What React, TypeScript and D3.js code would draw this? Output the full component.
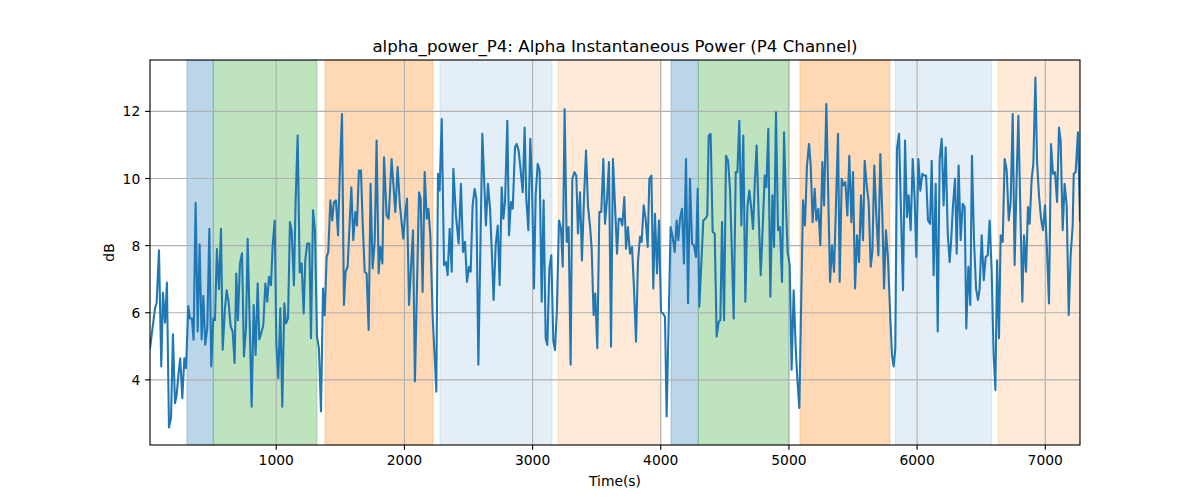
import React from "react";
import * as d3 from "d3";

const times: number[] = [
  15, 54, 67, 85, 103, 116, 132, 147, 163, 179, 194, 210, 223, 238, 251, 267, 283, 296, 314, 327,
  342, 355, 371, 387, 402, 418, 431, 446, 462, 478, 493, 509, 522, 537, 553, 569, 582, 600, 613, 628,
  644, 660, 675, 688, 701, 717, 733, 748, 764, 777, 792, 808, 824, 839, 855, 868,
  886, 899, 915, 930, 943, 959, 972, 988, 1001, 1016, 1032, 1047, 1063, 1076, 1092, 1107, 1120, 1138, 1151, 1167,
  1183, 1198, 1214, 1227, 1242, 1258, 1271, 1287, 1302, 1318, 1333, 1349, 1365, 1378, 1393, 1406, 1422, 1437, 1450, 1466,
  1482, 1497, 1513, 1528, 1541, 1557, 1573, 1586, 1601, 1617, 1630, 1645, 1661, 1674, 1690, 1705, 1721, 1736, 1752,
  1768, 1783, 1799, 1812, 1828, 1841, 1861, 1877, 1900, 1929, 1947, 1965, 1978, 1991, 2007, 2020, 2036, 2067, 2082, 2114,
  2127, 2142, 2158, 2174, 2187, 2202, 2220, 2249, 2262, 2275, 2291, 2309, 2324, 2337, 2353, 2369, 2382, 2402, 2423, 2441,
  2457, 2473, 2488, 2504, 2517, 2532, 2548, 2561, 2577, 2608, 2636, 2652, 2668,
  2683, 2696, 2712, 2728, 2743, 2759, 2772, 2785, 2803, 2816, 2831, 2845, 2863, 2876, 2891, 2907, 2923, 2938, 2951, 2967,
  2982, 2995, 3011, 3024, 3040, 3055, 3071, 3086, 3102, 3115, 3131, 3146, 3162, 3175, 3190, 3206, 3222, 3235, 3250, 3266,
  3281, 3297, 3310, 3326, 3341, 3354, 3370, 3385, 3401, 3417, 3432, 3450, 3461, 3476, 3489, 3505, 3521, 3536, 3552, 3565,
  3581, 3596, 3612, 3627, 3643, 3659, 3672, 3687, 3700, 3716, 3729, 3744, 3760, 3776, 3791, 3807, 3822, 3838, 3851, 3867,
  3882, 3898, 3911, 3927, 3942, 3955, 3971, 3986, 4002, 4017, 4033, 4046, 4077, 4093, 4109, 4124, 4137, 4150, 4166, 4181,
  4197, 4213, 4228, 4244, 4259, 4275, 4288, 4301, 4332, 4348, 4363, 4374, 4389, 4405, 4421, 4436, 4452,
  4465, 4478, 4494, 4509, 4525, 4540, 4553, 4569, 4585, 4598, 4613, 4629, 4644, 4660, 4676, 4691, 4704, 4720, 4735, 4748,
  4764, 4780, 4795, 4811, 4824, 4839, 4855, 4871, 4884, 4899, 4915, 4930, 4946, 4962, 4977, 4990, 5006, 5021, 5037, 5053,
  5066, 5081, 5110, 5125, 5141, 5157, 5170, 5185, 5201, 5214, 5230, 5245, 5261, 5274, 5292, 5321, 5336, 5352,
  5367, 5383, 5396, 5412, 5425, 5440, 5456, 5471, 5487, 5500, 5516, 5531, 5547, 5562, 5578, 5591, 5607, 5622, 5638, 5651,
  5666, 5682, 5698, 5713, 5729, 5742, 5757, 5773, 5789, 5804, 5817, 5830, 5843, 5859, 5875, 5890, 5906, 5921, 5934, 5950,
  5966, 5981, 5994, 6010, 6025, 6041, 6054, 6070, 6085, 6101, 6114, 6129, 6145, 6161, 6176, 6192, 6207, 6223, 6239, 6254,
  6265, 6280, 6296, 6309, 6324, 6340, 6356, 6371, 6384, 6400, 6415, 6428, 6444, 6460, 6475, 6488, 6504, 6520, 6535, 6551,
  6566, 6582, 6597, 6611, 6624, 6639, 6652, 6668, 6683, 6699, 6715, 6730, 6746, 6761, 6777, 6790, 6806, 6821, 6834, 6850,
  6865, 6878, 6894, 6907, 6923, 6936, 6951, 6967, 6982, 6998, 7014, 7029, 7045, 7060, 7076, 7092, 7107, 7120, 7136, 7151,
  7167, 7183, 7198, 7214, 7222, 7237, 7255, 7271,
];

const alphaPower: number[] = [
  4.94, 6.13, 6.3, 7.86, 4.4, 6.6, 5.7, 6.9, 2.58, 2.86, 5.36, 3.3, 3.55, 4.2, 4.64, 3.45, 4.64, 4.35, 6.2, 5.83,
  5.83, 5.2, 9.28, 5.44, 8.04, 5.2, 6.5, 5.05, 5.55, 8.5, 4.4, 5.83, 5.78, 7.9, 6.7, 8.5, 4.9, 6.13, 6.67, 6.33,
  5.6, 5.44, 4.5, 7.17, 5.78, 7.47, 7.77, 4.7, 5.55, 8.2, 5.83, 3.2, 6.23, 4.74, 6.88, 5.2,
  5.44, 5.63, 6.87, 6.33, 7.07, 6.82, 8.0, 8.75, 5.04, 4.05, 6.13, 3.2, 6.28, 5.68, 5.83, 8.7, 8.46, 6.82, 9.3, 11.28,
  7.2, 7.47, 5.98, 7.6, 8.06, 8.06, 5.24, 9.05, 8.46, 5.29, 4.94, 3.06, 6.72, 5.93, 7.66, 7.81, 9.35, 8.75, 9.3, 9.35,
  8.3, 10.29, 11.92, 6.23, 7.22, 7.37, 8.7, 9.74, 8.16, 9.0, 8.6, 10.24, 10.24, 8.7, 7.22, 7.17, 5.49, 9.84, 7.32,
  8.11, 11.13, 7.17, 7.96, 7.47, 10.63, 8.9, 8.8, 10.58, 9.0, 10.34, 9.2, 8.7, 8.21, 9.0, 9.4, 6.23, 8.46, 3.95, 9.59,
  9.4, 6.62, 10.19, 8.8, 9.1, 8.31, 5.93, 3.65, 10.14, 9.64, 11.77, 7.42, 7.51, 7.12, 8.5, 7.22, 10.29, 8.9, 8.06, 9.84,
  7.81, 8.11, 6.92, 7.37, 7.22, 9.2, 9.69, 9.4, 4.45, 11.33, 8.6, 9.84, 9.1,
  7.71, 6.38, 8.01, 8.6, 6.82, 9.74, 8.8, 9.3, 11.72, 8.31, 9.3, 9.1, 10.93, 11.03, 10.83, 10.24, 9.59, 11.52, 9.4, 8.46,
  11.18, 9.89, 6.72, 9.5, 10.44, 10.24, 6.33, 9.35, 5.24, 5.04, 7.32, 7.71, 5.14, 4.89, 6.13, 8.75, 8.5, 7.37, 12.07, 8.11,
  8.55, 4.45, 9.99, 10.19, 10.09, 8.36, 9.59, 7.56, 9.4, 10.83, 9.2, 8.5, 7.91, 5.93, 6.57, 4.94, 9.0, 9.0, 10.58, 8.65,
  9.4, 10.49, 4.99, 10.58, 9.2, 7.76, 8.8, 8.8, 8.6, 9.45, 7.91, 8.55, 7.76, 7.96, 6.72, 5.14, 7.51, 8.26, 8.11, 9.2,
  8.8, 7.96, 9.99, 10.09, 6.72, 8.95, 7.17, 8.75, 6.03, 5.98, 5.88, 2.91, 8.55, 8.26, 7.81, 8.75, 8.16, 8.8, 9.1, 7.47,
  10.58, 6.28, 9.99, 8.06, 8.01, 7.66, 9.69, 6.18, 8.75, 8.8, 8.9, 11.28, 11.33, 8.41, 8.36, 5.29, 5.73,
  5.78, 8.7, 5.78, 10.68, 10.53, 9.69, 8.06, 5.83, 10.19, 10.19, 11.72, 8.6, 11.28, 6.33, 9.15, 9.64, 9.2, 8.5, 9.99, 10.98,
  8.9, 7.12, 8.5, 10.09, 9.74, 11.48, 6.48, 9.5, 7.96, 11.97, 8.46, 8.55, 6.92, 11.38, 9.2, 7.81, 7.42, 4.3, 6.67, 4.94,
  4.0, 3.16, 9.35, 8.6, 10.39, 11.03, 10.39, 8.7, 9.69, 8.75, 9.1, 8.01, 10.49, 9.2, 12.22, 6.92, 8.01, 7.22,
  9.2, 11.33, 6.92, 9.99, 9.79, 9.89, 8.9, 10.68, 8.7, 10.19, 6.72, 8.31, 7.51, 9.5, 8.16, 10.53, 9.79, 9.3, 7.37, 7.81,
  10.39, 8.9, 7.71, 10.73, 8.9, 6.72, 8.46, 7.61, 6.03, 4.74, 4.4, 4.94, 10.88, 11.33, 8.9, 6.67, 11.13, 8.85, 9.5, 8.46,
  10.58, 9.4, 7.66, 10.58, 9.64, 10.14, 10.09, 10.09, 8.75, 8.65, 10.53, 7.12, 9.84, 5.44, 10.58, 11.18, 9.2, 10.93, 8.36, 7.51,
  8.11, 9.2, 9.99, 7.76, 10.39, 8.16, 9.25, 9.15, 5.53, 7.37, 6.23, 10.68, 8.16, 6.72, 6.38, 6.72, 8.31, 6.97, 7.66, 7.71,
  8.75, 7.22, 4.74, 3.7, 7.56, 5.24, 8.31, 8.11, 10.58, 10.24, 8.75, 9.3, 11.92, 7.42, 10.09, 11.87, 9.0, 6.33, 8.31, 7.22,
  9.15, 8.65, 9.99, 10.44, 13.01, 10.49, 9.5, 8.8, 8.46, 9.2, 7.81, 6.28, 11.03, 10.14, 10.19, 9.3, 11.52, 11.13, 8.46, 9.84,
  9.2, 5.93, 7.71, 8.6, 10.14, 10.19, 11.38, 8.75,
];

const spanStarts: number[] = [303, 509, 1380, 2277, 3198, 4080, 4293, 5086, 5830, 6631];
const spanEnds: number[] = [509, 1318, 2223, 3151, 4002, 4293, 5000, 5788, 6581, 7271];
const spanColors: string[] = ["#1f77b4", "#2ca02c", "#ff7f0e", "#1f77b4", "#ff7f0e", "#1f77b4", "#2ca02c", "#ff7f0e", "#1f77b4", "#ff7f0e"];
const spanAlphas: number[] = [0.3, 0.3, 0.3, 0.12, 0.16, 0.3, 0.3, 0.3, 0.12, 0.16];

const xTicks: number[] = [1000, 2000, 3000, 4000, 5000, 6000, 7000];
const yTicks: number[] = [4, 6, 8, 10, 12];

const W = 1200;
const H = 500;
const M = { left: 150, right: 1080, top: 60, bottom: 445 };
const FONT = "DejaVu Sans, sans-serif";
const PT = 100 / 72;

export default function App() {
  const tMin = d3.min(times)!;
  const tMax = d3.max(times)!;
  const vMin = d3.min(alphaPower)!;
  const vMax = d3.max(alphaPower)!;
  const pad = (vMax - vMin) * 0.05;
  const x = d3.scaleLinear().domain([tMin, tMax]).range([M.left, M.right]);
  const y = d3.scaleLinear().domain([vMin - pad, vMax + pad]).range([M.bottom, M.top]);
  const pts: [number, number][] = times.map((t, i) => [t, alphaPower[i]]);
  const line = d3
    .line<[number, number]>()
    .x((d) => x(d[0]))
    .y((d) => y(d[1]));
  const tickLen = 3.5 * PT;
  const tickFs = 10 * PT;

  return (
    <svg
      width={W}
      height={H}
      style={{ position: "absolute", left: 0, top: 0, background: "#fff" }}
      fontFamily={FONT}
    >
      <defs>
        <clipPath id="plotclip">
          <rect x={M.left} y={M.top} width={M.right - M.left} height={M.bottom - M.top} />
        </clipPath>
      </defs>
      <rect x={0} y={0} width={W} height={H} fill="#fff" />
      <g clipPath="url(#plotclip)">
        {spanStarts.map((s, i) => (
          <rect
            key={i}
            x={x(s)}
            y={M.top}
            width={x(spanEnds[i]) - x(s)}
            height={M.bottom - M.top}
            fill={spanColors[i]}
            fillOpacity={spanAlphas[i]}
            stroke={spanColors[i]}
            strokeOpacity={spanAlphas[i]}
            strokeWidth={1}
          />
        ))}
      </g>
      {xTicks.map((t) => (
        <line key={"gx" + t} x1={x(t)} x2={x(t)} y1={M.top} y2={M.bottom} stroke="#b0b0b0" strokeWidth={0.8 * PT} />
      ))}
      {yTicks.map((v) => (
        <line key={"gy" + v} x1={M.left} x2={M.right} y1={y(v)} y2={y(v)} stroke="#b0b0b0" strokeWidth={0.8 * PT} />
      ))}
      <g clipPath="url(#plotclip)">
        <path d={line(pts) || ""} fill="none" stroke="#1f77b4" strokeWidth={1.5 * PT} strokeLinejoin="round" strokeLinecap="square" />
      </g>
      <rect x={M.left} y={M.top} width={M.right - M.left} height={M.bottom - M.top} fill="none" stroke="#000" strokeWidth={0.8 * PT} />
      {xTicks.map((t) => (
        <g key={"tx" + t}>
          <line x1={x(t)} x2={x(t)} y1={M.bottom} y2={M.bottom + tickLen} stroke="#000" strokeWidth={0.8 * PT} />
          <text x={x(t)} y={M.bottom + tickLen + 4.9 + 10.6} fontSize={tickFs} textAnchor="middle" fill="#000">
            {t}
          </text>
        </g>
      ))}
      {yTicks.map((v) => (
        <g key={"ty" + v}>
          <line x1={M.left - tickLen} x2={M.left} y1={y(v)} y2={y(v)} stroke="#000" strokeWidth={0.8 * PT} />
          <text x={M.left - tickLen - 4.9} y={y(v)} dy="0.36em" fontSize={tickFs} textAnchor="end" fill="#000">
            {v}
          </text>
        </g>
      ))}
      <text x={(M.left + M.right) / 2} y={486} fontSize={tickFs} textAnchor="middle" fill="#000">
        Time(s)
      </text>
      <text
        transform={`translate(${114},${(M.top + M.bottom) / 2}) rotate(-90)`}
        fontSize={tickFs}
        textAnchor="middle"
        fill="#000"
      >
        dB
      </text>
      <text x={(M.left + M.right) / 2} y={52} fontSize={12 * PT} textAnchor="middle" fill="#000">
        alpha_power_P4: Alpha Instantaneous Power (P4 Channel)
      </text>
    </svg>
  );
}
